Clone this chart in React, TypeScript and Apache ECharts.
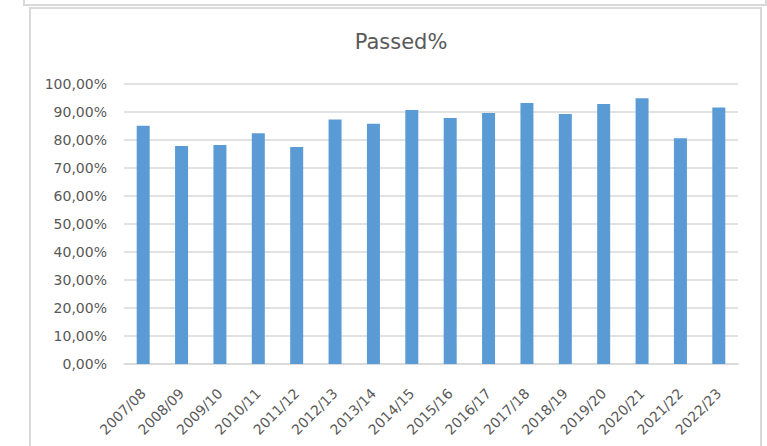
import React, { useEffect, useRef } from "react";
import * as echarts from "echarts";

const categories = [
  "2007/08", "2008/09", "2009/10", "2010/11", "2011/12", "2012/13", "2013/14", "2014/15",
  "2015/16", "2016/17", "2017/18", "2018/19", "2019/20", "2020/21", "2021/22", "2022/23",
];
const passedValues = [
  0.851, 0.779, 0.782, 0.824, 0.775, 0.873, 0.858, 0.907,
  0.879, 0.896, 0.932, 0.893, 0.929, 0.949, 0.806, 0.916,
];
const yTicks = { min: 0, max: 1, interval: 0.1 };

const FONT = "DejaVu Sans";
const TEXT = "#595959";
const LINE = "#d9d9d9";

export default function App() {
  const ref = useRef<HTMLDivElement>(null);
  useEffect(() => {
    if (!ref.current) return;
    const chart = echarts.init(ref.current, null, { renderer: "svg" });
    chart.setOption({
      animation: false,
      backgroundColor: "#ffffff",
      title: {
        text: "Passed%",
        left: 396,
        top: 26,
        textAlign: "center",
        textStyle: { fontFamily: FONT, fontSize: 21, fontWeight: "normal", color: TEXT },
      },
      graphic: [
        {
          type: "rect",
          shape: { x: 24, y: -10, width: 742, height: 15 },
          style: { fill: "none", stroke: LINE, lineWidth: 2 },
          silent: true,
        },
        {
          type: "rect",
          shape: { x: 30, y: 8, width: 731, height: 470 },
          style: { fill: "none", stroke: LINE, lineWidth: 2 },
          silent: true,
        },
      ],
      grid: { left: 124, right: 29, top: 84, bottom: 82, containLabel: false },
      xAxis: {
        type: "category",
        data: categories,
        axisLine: { show: true, lineStyle: { color: LINE, width: 1.5 } },
        axisTick: { show: false },
        axisLabel: {
          rotate: 45,
          interval: 0,
          margin: 27,
          fontFamily: FONT,
          fontSize: 14,
          color: TEXT,
        },
      },
      yAxis: {
        type: "value",
        min: yTicks.min,
        max: yTicks.max,
        interval: yTicks.interval,
        axisLine: { show: false },
        axisTick: { show: false },
        splitLine: { show: true, lineStyle: { color: LINE, width: 1.5 } },
        axisLabel: {
          margin: 17,
          fontFamily: FONT,
          fontSize: 14,
          color: TEXT,
          formatter: (v: number) => (v * 100).toFixed(2).replace(".", ",") + "%",
        },
      },
      series: [
        {
          type: "bar",
          data: passedValues,
          barWidth: 13,
          itemStyle: { color: "#5b9bd5" },
        },
      ],
    });
    return () => chart.dispose();
  }, []);
  return (
    <div
      ref={ref}
      style={{ position: "fixed", left: 0, top: 0, width: 767, height: 446 }}
    />
  );
}
